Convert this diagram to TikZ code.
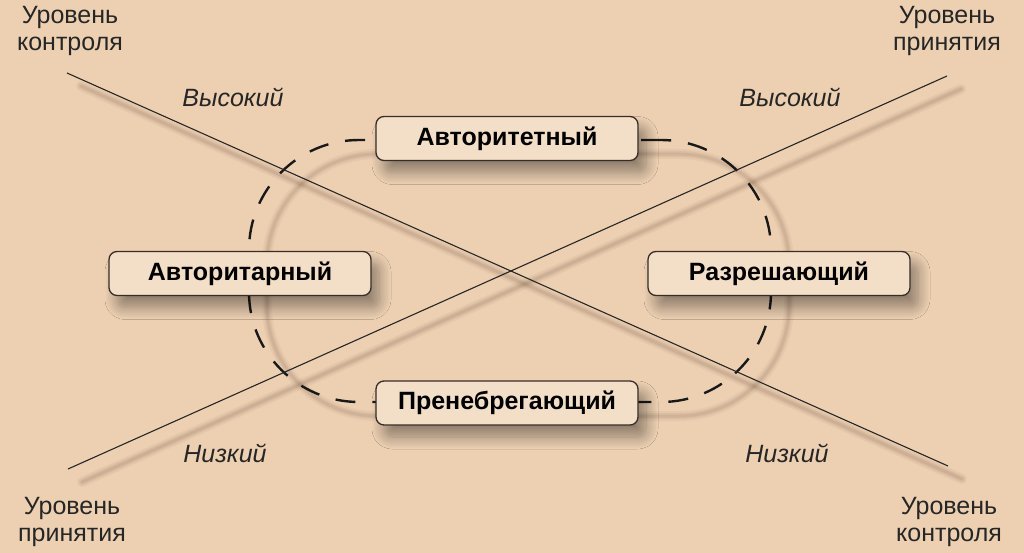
\documentclass[tikz,border=0pt]{standalone}
\usepackage{fontspec}
\setmainfont{Liberation Sans}
\usetikzlibrary{shadows.blur}
\definecolor{bg}{RGB}{237,208,178}
\definecolor{boxfill}{RGB}{243,223,200}
\definecolor{boxline}{RGB}{55,45,38}
\definecolor{shadecol}{RGB}{90,65,45}
\tikzset{
  stylebox/.style={draw=boxline, line width=1.3pt, fill=boxfill, rounded corners=8pt,
    minimum width=262pt, minimum height=44pt, inner sep=0pt,
    font=\fontsize{25}{28}\selectfont\bfseries,
    blur shadow={shadow xshift=8pt, shadow yshift=-12pt, shadow blur radius=12pt, shadow blur steps=12, shadow opacity=40}},
  axislabel/.style={align=center, font=\fontsize{25}{27}\selectfont, text=black!85},
  levellabel/.style={font=\fontsize{25}{28}\selectfont\itshape, text=black!85},
  axisline/.style={line width=1.1pt, draw=black!85},
  shadowline/.style={draw=shadecol, line cap=round},
  loopstyle/.style={draw=black!90, line width=2.4pt, dash pattern=on 20pt off 17pt,
    rounded corners=110pt, minimum width=522pt, minimum height=262pt, inner sep=0pt},
}
\begin{document}
\begin{tikzpicture}[x=1pt,y=-1pt]
\fill[bg] (0,0) rectangle (1024,553);
\useasboundingbox (0,0) rectangle (1024,553);

% axis end points
\coordinate (ctlA) at (67,73);
\coordinate (ctlB) at (948,466);
\coordinate (accA) at (68,469);
\coordinate (accB) at (947,76);

% shadows of the axis lines
\foreach \w/\o in {10/0.06,6/0.08,3/0.10}{
  \draw[shadowline, line width=\w pt, opacity=\o] ([shift={(14,13)}]ctlA) -- ([shift={(14,13)}]ctlB);
  \draw[shadowline, line width=\w pt, opacity=\o] ([shift={(14,13)}]accA) -- ([shift={(14,13)}]accB);
}
% shadow of the dashed loop
\foreach \w/\o in {10/0.05,6/0.07,3/0.09}{
  \draw[draw=shadecol, opacity=\o, line width=\w pt, rounded corners=110pt] (267,154) rectangle (789,416);
}

% dashed loop
\node[loopstyle] (loop) at (510,271) {};

% axis lines
\draw[axisline] (ctlA) -- (ctlB);
\draw[axisline] (accA) -- (accB);

% style boxes
\node[stylebox] (top) at (507,138.5) {Авторитетный};
\node[stylebox] (left) at (240,273.5) {Авторитарный};
\node[stylebox] (right) at (779,273.5) {Разрешающий};
\node[stylebox] (bottom) at (507,403) {Пренебрегающий};

% corner labels
\node[axislabel] (tl) at (70,31) {Уровень\\контроля};
\node[axislabel] (tr) at (947,31) {Уровень\\принятия};
\node[axislabel] (bl) at (72,522) {Уровень\\принятия};
\node[axislabel] (br) at (949,522) {Уровень\\контроля};

% level labels
\node[levellabel] (hl) at (233,97) {Высокий};
\node[levellabel] (hr) at (790,97) {Высокий};
\node[levellabel] (ll) at (225,453) {Низкий};
\node[levellabel] (lr) at (787,453) {Низкий};
\end{tikzpicture}
\end{document}
